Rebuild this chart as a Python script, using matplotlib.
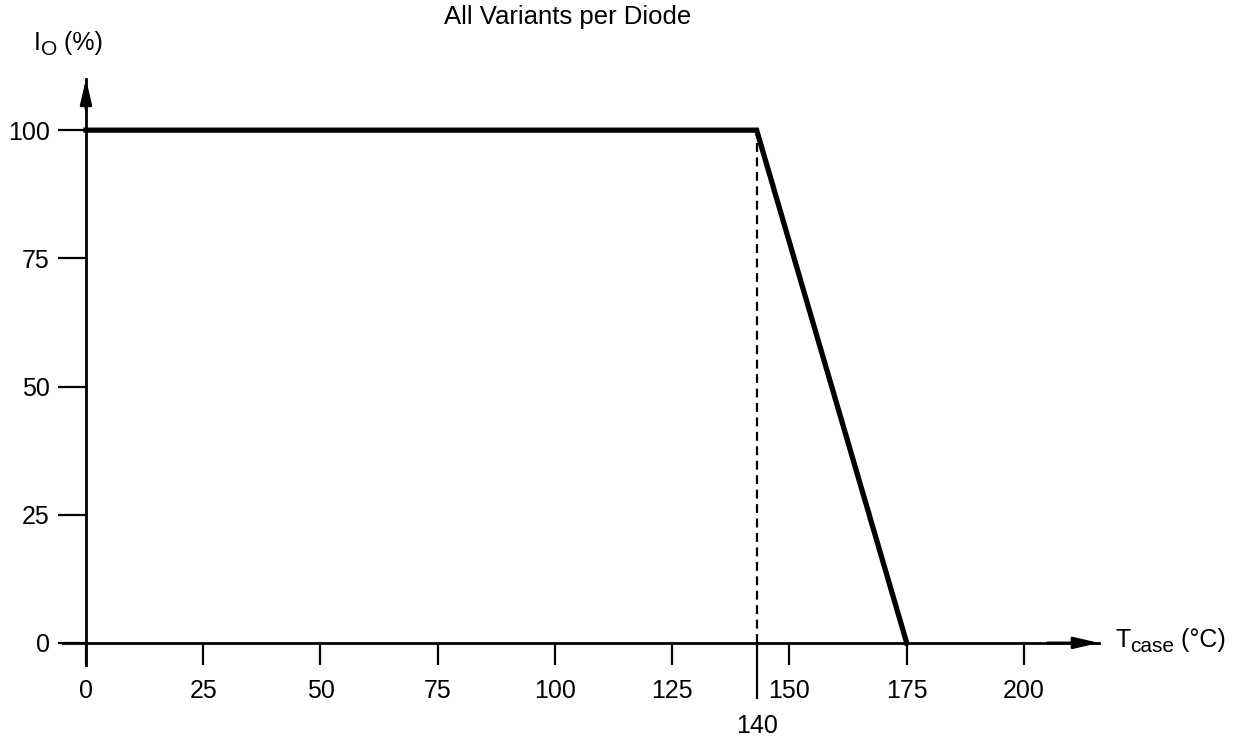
import matplotlib.pyplot as plt
from matplotlib.ticker import FixedLocator, FixedFormatter

plt.rcParams['font.family'] = ['Liberation Sans', 'DejaVu Sans']

# derating curve, as drawn (knee sits a little right of the 140 mark)
temp = [0, 143, 175]
current = [100, 100, 0]
knee_temp = 143
knee_label = '140'

x_ticks = [0, 25, 50, 75, 100, 125, 150, 175, 200]
y_ticks = [0, 25, 50, 75, 100]

FS = 18


def rich_text(fig: plt.Figure, x_px: float, y_px: float, pieces):
    """Place text pieces side by side; each piece is (text, size, drop_px)."""

    renderer = fig.canvas.get_renderer()
    W, H = fig.bbox.width, fig.bbox.height
    for text, size, drop in pieces:
        t = fig.text(x_px / W, 1 - (y_px + drop) / H, text, fontsize=size,
                     ha='left', va='baseline')
        x_px += t.get_window_extent(renderer).width


def style_axes(ax: plt.Axes):

    for side in ['top', 'right']:
        ax.spines[side].set_visible(False)
    for side in ['left', 'bottom']:
        ax.spines[side].set_position(('data', 0))
        ax.spines[side].set_linewidth(2.0)

    ax.set_xlim(-5, 216)
    ax.set_ylim(-4.3, 110)
    ax.set_xticks(x_ticks)
    ax.set_yticks(y_ticks)
    ax.tick_params(axis='x', which='major', direction='out', length=16, width=1.6,
                   pad=10, labelsize=FS)
    ax.tick_params(axis='y', which='major', direction='out', length=20, width=1.6,
                   pad=6, labelsize=FS)

    ax.xaxis.set_minor_locator(FixedLocator([knee_temp]))
    ax.xaxis.set_minor_formatter(FixedFormatter([knee_label]))
    ax.tick_params(axis='x', which='minor', direction='out', length=40, width=1.6,
                   pad=11, labelsize=FS)

    # arrow heads at the ends of both axes
    arrow = dict(arrowstyle='-|>,head_length=1.5,head_width=0.35', color='black',
                 lw=2.0, shrinkA=0, shrinkB=0)
    ax.annotate('', xy=(216, 0), xytext=(205, 0), arrowprops=arrow,
                annotation_clip=False)
    ax.annotate('', xy=(0, 110), xytext=(0, 104), arrowprops=arrow,
                annotation_clip=False)


def plot_derating():

    fig = plt.figure(figsize=(12.56, 7.40), dpi=100)
    ax = fig.add_axes([0.0498, 0.1014, 0.8252, 0.792])

    style_axes(ax)

    ax.plot(temp, current, color='black', lw=3.8, solid_joinstyle='miter',
            clip_on=False, zorder=5)
    ax.plot([knee_temp, knee_temp], [0, 100], color='black', lw=1.6,
            ls=(0, (4, 2.5)), zorder=4)

    fig.text(568 / 1256, 1 - 17 / 740, 'All Variants per Diode',
             ha='center', va='center', fontsize=18.5)
    rich_text(fig, 34, 50, [('I', FS, 0), ('O', 15, 5), (' (%)', FS, 0)])
    rich_text(fig, 1115, 647, [('T', FS, 0), ('case', 15, 5), (' (°C)', FS, 0)])

    plt.savefig('out.png', dpi=100)


def main():

    plot_derating()


if __name__ == '__main__':
    main()
